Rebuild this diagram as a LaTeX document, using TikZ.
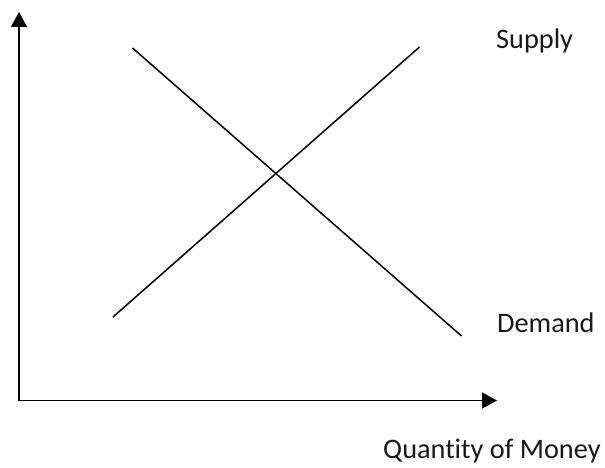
\documentclass[tikz,border=0pt]{standalone}
\usepackage{fontspec}
\setmainfont[Ligatures={NoCommon,NoContextual}]{Carlito}
\usetikzlibrary{arrows.meta}
\begin{document}
\begin{tikzpicture}[x=1pt,y=-1pt,
  axis/.style={line width=1.5pt,-{Triangle[length=15pt,width=16pt]}},
  curve/.style={line width=1.5pt},
  lbl/.style={inner sep=0pt,font=\fontsize{28.3}{34}\selectfont,text=black!90}]
\useasboundingbox (0,0) rectangle (605,468);
\coordinate (o) at (19,400.5);
\coordinate (ytip) at (19,12);
\coordinate (xtip) at (497,400.5);
\coordinate (s1) at (113,317);
\coordinate (s2) at (419.5,47);
\coordinate (d1) at (132.5,48);
\coordinate (d2) at (461.5,336);
\draw[axis] (o) -- (ytip);
\draw[axis] (o) -- (xtip);
\draw[curve] (s1) -- (s2);
\draw[curve] (d1) -- (d2);
\node[lbl,anchor=base west] (sup) at (496,49) {Supply};
\node[lbl,anchor=base west] (dem) at (497,332) {Demand};
\node[lbl,anchor=base west] (qty) at (383,458) {Quantity of Money};
\end{tikzpicture}
\end{document}
